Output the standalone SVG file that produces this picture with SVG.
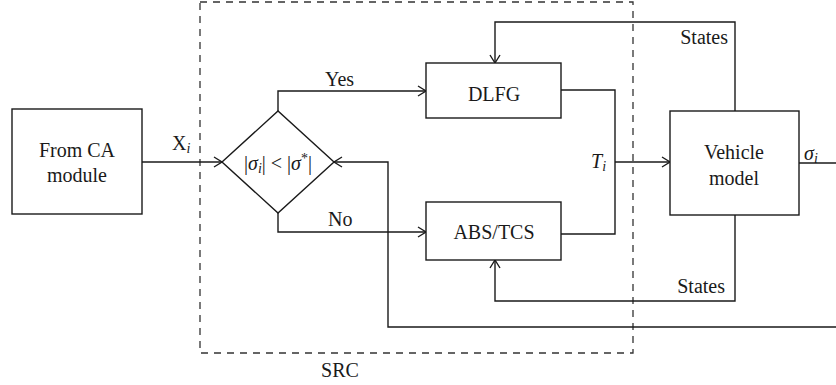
<svg xmlns="http://www.w3.org/2000/svg" width="836" height="385" viewBox="0 0 836 385" font-family="'Liberation Serif', 'DejaVu Serif', serif">
<defs>
<style>
.box{fill:#fff;stroke:#1a1a1a;stroke-width:1.4}
.ln{fill:none;stroke:#1a1a1a;stroke-width:1.4}
.dash{fill:none;stroke:#333;stroke-width:1.3;stroke-dasharray:7,6}
text{font-family:'Liberation Serif','DejaVu Serif',serif;font-size:20px;fill:#1a1a1a}
.c{text-anchor:middle}
.e{text-anchor:end}
.it{font-style:italic}
</style>
<marker id="arr" viewBox="-10 -6 12 12" markerWidth="12" markerHeight="12" refX="0" refY="0" orient="auto" markerUnits="userSpaceOnUse">
<path d="M-8,-5 L0,0 L-8,5" fill="none" stroke="#1a1a1a" stroke-width="1.4"/>
</marker>
</defs>
<rect width="836" height="385" fill="#fff"/>
<g id="src">
<rect class="dash" x="200" y="2" width="433" height="351"/>
<text class="c" x="340" y="377">SRC</text>
</g>
<g id="connectors">
<path class="ln" d="M142,162 H222" marker-end="url(#arr)"/>
<path class="ln" d="M278,111 V91 H426" marker-end="url(#arr)"/>
<path class="ln" d="M278,213 V232 H426" marker-end="url(#arr)"/>
<path class="ln" d="M561,90 H615 V234 H561"/>
<path class="ln" d="M615,162 H670" marker-end="url(#arr)"/>
<path class="ln" d="M735,111 V22 H495 V63" marker-end="url(#arr)"/>
<path class="ln" d="M735,215 V301 H495 V260" marker-end="url(#arr)"/>
<path class="ln" d="M799,163 H836"/>
<path class="ln" d="M836,327 H388 V162 H334" marker-end="url(#arr)"/>
<text x="172" y="150">X<tspan class="it" font-size="14" dy="3">i</tspan></text>
<text x="325" y="86">Yes</text>
<text x="328" y="226">No</text>
<text class="it" x="591" y="168">T<tspan font-size="14" dy="3">i</tspan></text>
<text class="it" x="804" y="160">σ<tspan font-size="14" dy="3">i</tspan></text>
<text class="e" x="728" y="44">States</text>
<text class="e" x="725" y="293">States</text>
</g>
<g id="ca">
<rect class="box" x="12" y="109" width="130" height="105"/>
<text class="c" x="77" y="157">From CA</text>
<text class="c" x="77" y="182">module</text>
</g>
<g id="decision">
<path class="box" d="M222,162 L278,111 L334,162 L278,213 Z"/>
<text class="c" x="278" y="170">|<tspan class="it">σ</tspan><tspan class="it" font-size="14" dy="3">i</tspan><tspan dy="-3">| &lt; |</tspan><tspan class="it">σ</tspan><tspan font-size="14" dy="-7">*</tspan><tspan dy="7">|</tspan></text>
</g>
<g id="dlfg">
<rect class="box" x="426" y="63" width="135" height="55"/>
<text class="c" x="494" y="101">DLFG</text>
</g>
<g id="abs">
<rect class="box" x="426" y="202" width="135" height="58"/>
<text class="c" x="494" y="239">ABS/TCS</text>
</g>
<g id="vehicle">
<rect class="box" x="670" y="111" width="129" height="104"/>
<text class="c" x="734" y="159">Vehicle</text>
<text class="c" x="734" y="185">model</text>
</g>
</svg>
